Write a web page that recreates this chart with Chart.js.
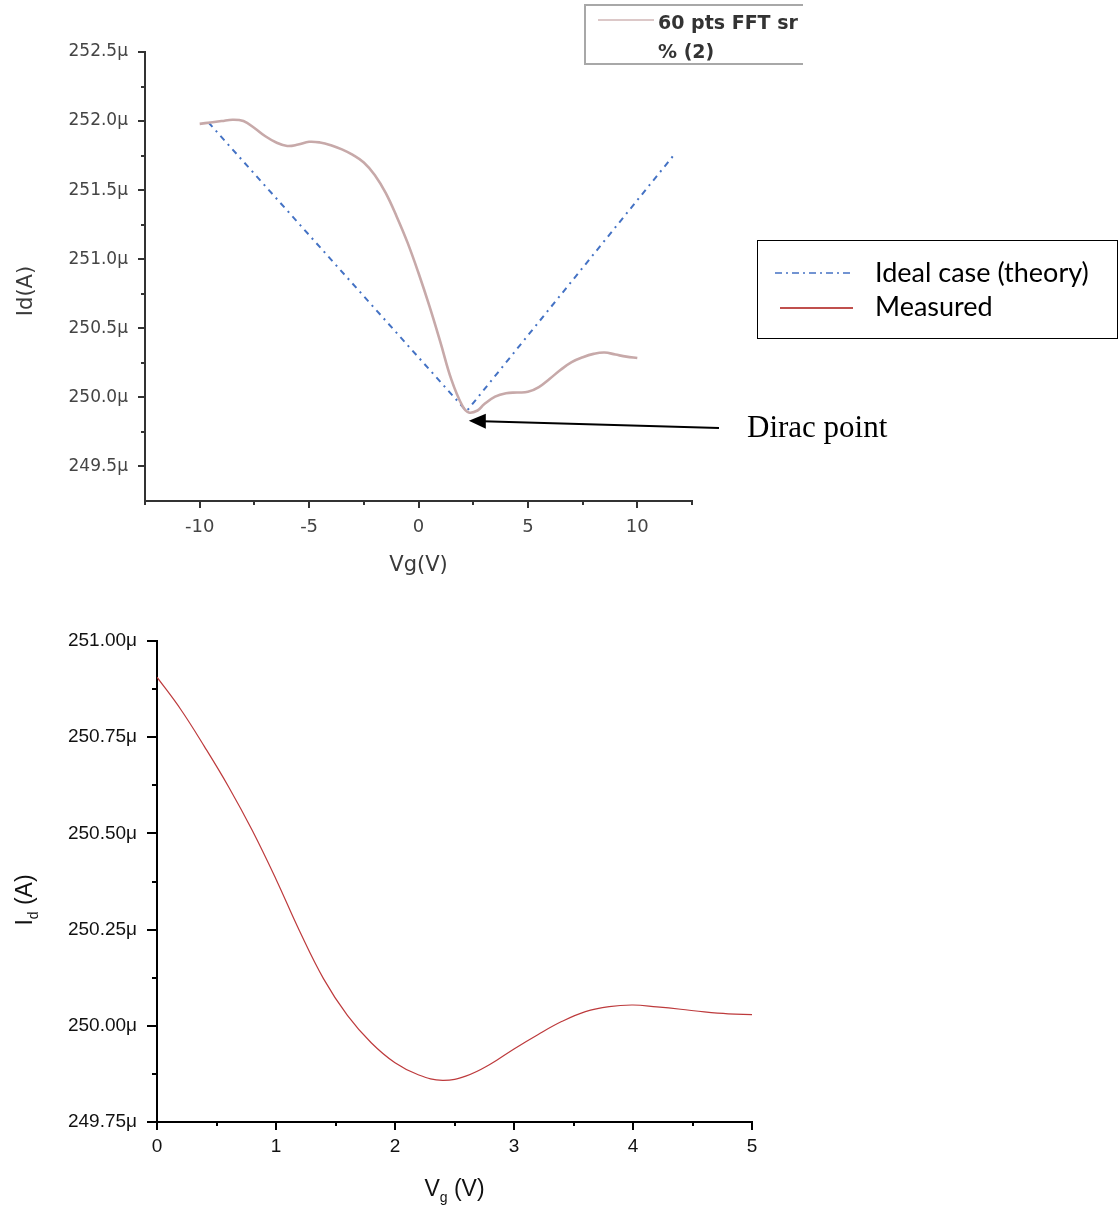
<!DOCTYPE html>
<html>
<head>
<meta charset="utf-8">
<script src="https://cdn.jsdelivr.net/npm/chart.js@4.4.0/dist/chart.umd.min.js"></script>
<style>
html,body{margin:0;padding:0;background:#fff;width:1120px;height:1207px;overflow:hidden}
#c1{position:absolute;left:0;top:0}
#c2{position:absolute;left:0;top:600px}
</style>
</head>
<body>
<canvas id="c1" width="1120" height="600"></canvas>
<canvas id="c2" width="1120" height="607"></canvas>
<script>
// ---------------- data (values in µA / V) ----------------
const topVg = [-10, -9.5, -9, -8.5, -8, -7.5, -7, -6.5, -6, -5.5, -5, -4.5, -4, -3.5, -3, -2.5, -2, -1.5, -1, -0.5, 0, 0.5, 1, 1.5, 2, 2.3, 2.7, 3, 3.5, 4, 4.5, 5, 5.5, 6, 6.5, 7, 7.5, 8, 8.5, 9, 9.5, 10];
const topId = [251.98, 251.99, 252.00, 252.01, 252.00, 251.95, 251.89, 251.845, 251.82, 251.83, 251.85, 251.845, 251.825, 251.795, 251.755, 251.70, 251.61, 251.48, 251.31, 251.12, 250.90, 250.66, 250.40, 250.13, 249.94, 249.89, 249.905, 249.95, 250.005, 250.03, 250.035, 250.04, 250.075, 250.135, 250.20, 250.255, 250.29, 250.315, 250.325, 250.31, 250.295, 250.285];
const idealVg = [-9.6, 2.2, 11.7];
const idealId = [251.99, 249.90, 251.76];
const topXTicks = [-10, -5, 0, 5, 10];
const topXMinor = [-12.5, -7.5, -2.5, 2.5, 7.5, 12.5];
const topYTicks = [249.5, 250.0, 250.5, 251.0, 251.5, 252.0, 252.5];
const topYMinor = [249.75, 250.25, 250.75, 251.25, 251.75, 252.25];

const botVg = [0, 0.2, 0.4, 0.6, 0.8, 1.0, 1.2, 1.4, 1.6, 1.8, 2.0, 2.2, 2.4, 2.6, 2.8, 3.0, 3.2, 3.4, 3.6, 3.8, 4.0, 4.2, 4.4, 4.6, 4.8, 5.0];
const botId = [250.906, 250.822, 250.725, 250.622, 250.508, 250.381, 250.245, 250.122, 250.027, 249.956, 249.904, 249.872, 249.858, 249.870, 249.900, 249.940, 249.977, 250.011, 250.037, 250.050, 250.054, 250.049, 250.043, 250.036, 250.031, 250.029];
const botXTicks = [0, 1, 2, 3, 4, 5];
const botXMinor = [0.5, 1.5, 2.5, 3.5, 4.5];
const botYTicks = [249.75, 250.00, 250.25, 250.50, 250.75, 251.00];
const botYMinor = [249.875, 250.125, 250.375, 250.625, 250.875];

const topLegendLines = ['60 pts FFT sr', '% (2)'];
const rightLegendLabels = ['Ideal case (theory)', 'Measured'];
const diracLabel = 'Dirac point';
const diracPoint = [2.3, 249.83];
const topXTitle = 'Vg(V)';
const topYTitle = 'Id(A)';
const botXTitle = [['V', false], ['g', true], [' (V)', false]];
const botYTitle = [['I', false], ['d', true], [' (A)', false]];

// ---------------- helpers ----------------
const pts = (xs, ys) => xs.map((x, i) => ({x: x, y: ys[i]}));
const setTicks = arr => s => { s.ticks = arr.map(v => ({value: v})); };

const minorTicks = {
  id: 'minorTicks',
  afterDraw(chart, args, o) {
    const ctx = chart.ctx, ca = chart.chartArea;
    const xs = chart.scales.x, ys = chart.scales.y;
    ctx.save();
    ctx.strokeStyle = o.color; ctx.lineWidth = o.width;
    o.xv.forEach(v => { const p = Math.round(xs.getPixelForValue(v)); ctx.beginPath(); ctx.moveTo(p, ca.bottom); ctx.lineTo(p, ca.bottom + o.xlen); ctx.stroke(); });
    o.yv.forEach(v => { const p = Math.round(ys.getPixelForValue(v)); ctx.beginPath(); ctx.moveTo(ca.left, p); ctx.lineTo(ca.left - o.ylen, p); ctx.stroke(); });
    ctx.restore();
  }
};

function drawSubText(ctx, parts, cx, baseY, size, family, color) {
  const subSize = Math.round(size * 0.62);
  let total = 0;
  const widths = parts.map(([t, sub]) => { ctx.font = (sub ? subSize : size) + 'px ' + family; const w = ctx.measureText(t).width; total += w; return w; });
  let x = cx - total / 2;
  ctx.fillStyle = color; ctx.textAlign = 'left'; ctx.textBaseline = 'alphabetic';
  parts.forEach(([t, sub], i) => {
    ctx.font = (sub ? subSize : size) + 'px ' + family;
    ctx.fillText(t, x, baseY + (sub ? size * 0.28 : 0));
    x += widths[i];
  });
}

const topDecor = {
  id: 'topDecor',
  afterDraw(chart) {
    const ctx = chart.ctx, ca = chart.chartArea;
    const ds1 = chart.data.datasets[1];
    ctx.save();
    // axis titles
    ctx.fillStyle = '#3a3a3a';
    ctx.font = '21px "DejaVu Sans"';
    ctx.textAlign = 'center'; ctx.textBaseline = 'alphabetic';
    ctx.fillText(topXTitle, (ca.left + ca.right) / 2, 571);
    ctx.save();
    ctx.translate(32, 291); ctx.rotate(-Math.PI / 2);
    ctx.fillText(topYTitle, 0, 0);
    ctx.restore();

    // clipped original legend (top)
    ctx.save();
    ctx.beginPath(); ctx.rect(0, 0, 803, 80); ctx.clip();
    ctx.strokeStyle = '#a8a8a8'; ctx.lineWidth = 2;
    ctx.beginPath(); ctx.moveTo(810, 5); ctx.lineTo(585, 5); ctx.lineTo(585, 64); ctx.lineTo(810, 64); ctx.stroke();
    ctx.strokeStyle = '#dcc8c8'; ctx.lineWidth = 2;
    ctx.beginPath(); ctx.moveTo(598, 20); ctx.lineTo(654, 20); ctx.stroke();
    ctx.fillStyle = '#333'; ctx.font = 'bold 19px "DejaVu Sans"'; ctx.textAlign = 'left';
    ctx.fillText(topLegendLines[0], 658, 29);
    ctx.fillText(topLegendLines[1], 658, 58);
    ctx.restore();

    // right legend box
    ctx.strokeStyle = '#000'; ctx.lineWidth = 1;
    ctx.strokeRect(757.5, 240.5, 360, 98);
    ctx.strokeStyle = ds1.borderColor; ctx.lineWidth = 1.6; ctx.setLineDash([7, 4, 2, 4]);
    ctx.beginPath(); ctx.moveTo(775, 273); ctx.lineTo(851, 273); ctx.stroke();
    ctx.setLineDash([]);
    ctx.strokeStyle = '#c0504d'; ctx.lineWidth = 1.8;
    ctx.beginPath(); ctx.moveTo(780, 308); ctx.lineTo(853, 308); ctx.stroke();
    ctx.fillStyle = '#000'; ctx.font = '27px Lato'; ctx.textAlign = 'left';
    ctx.fillText(rightLegendLabels[0], 875, 282);
    ctx.fillText(rightLegendLabels[1], 875, 316);

    // Dirac point annotation
    const tx = chart.scales.x.getPixelForValue(diracPoint[0]);
    const ty = chart.scales.y.getPixelForValue(diracPoint[1]);
    ctx.strokeStyle = '#000'; ctx.lineWidth = 2;
    ctx.beginPath(); ctx.moveTo(719, 428); ctx.lineTo(tx + 14, ty + 0.5); ctx.stroke();
    ctx.fillStyle = '#000';
    ctx.beginPath(); ctx.moveTo(tx, ty); ctx.lineTo(tx + 17, ty - 7); ctx.lineTo(tx + 17, ty + 8); ctx.closePath(); ctx.fill();
    ctx.font = '31px "Liberation Serif"';
    ctx.fillText(diracLabel, 747, 437);
    ctx.restore();
  }
};

const botDecor = {
  id: 'botDecor',
  afterDraw(chart) {
    const ctx = chart.ctx, ca = chart.chartArea;
    ctx.save();
    drawSubText(ctx, botXTitle, (ca.left + ca.right) / 2, 596, 23, '"Liberation Sans"', '#111');
    ctx.translate(32, 300); ctx.rotate(-Math.PI / 2);
    drawSubText(ctx, botYTitle, 0, 0, 23, '"Liberation Sans"', '#111');
    ctx.restore();
  }
};

// ---------------- top chart ----------------
new Chart(document.getElementById('c1'), {
  type: 'line',
  data: {
    datasets: [
      {label: '60 pts FFT sr % (2)', data: pts(topVg, topId), borderColor: '#c7a9a9', borderWidth: 2.6,
       pointRadius: 0, tension: 0.4, fill: false},
      {label: 'Ideal case (theory)', data: pts(idealVg, idealId), borderColor: '#4472c4', borderWidth: 2,
       borderDash: [6, 5, 2, 5], pointRadius: 0, tension: 0, fill: false}
    ]
  },
  options: {
    responsive: false, animation: false, devicePixelRatio: 1,
    layout: {padding: {left: 0, top: 52, right: 428, bottom: 0}},
    plugins: {
      legend: {display: false}, tooltip: {enabled: false},
      minorTicks: {xv: topXMinor, yv: topYMinor, xlen: 4, ylen: 4, color: '#333', width: 2}
    },
    scales: {
      x: {
        type: 'linear', min: -12.5, max: 12.5,
        afterBuildTicks: setTicks(topXTicks),
        afterFit: s => { s.height = 99; },
        grid: {drawOnChartArea: false, drawTicks: true, tickLength: 7, lineWidth: 2, color: '#333'},
        border: {display: true, color: '#333', width: 2},
        ticks: {font: {family: 'DejaVu Sans', size: 18}, color: '#444', padding: 9, maxRotation: 0, autoSkip: false,
                callback: v => String(v)}
      },
      y: {
        type: 'linear', min: 249.25, max: 252.5,
        afterBuildTicks: setTicks(topYTicks),
        afterFit: s => { s.width = 145; },
        grid: {drawOnChartArea: false, drawTicks: true, tickLength: 7, lineWidth: 2, color: '#333'},
        border: {display: true, color: '#333', width: 2},
        ticks: {font: {family: 'DejaVu Sans', size: 17}, color: '#444', padding: 10, autoSkip: false,
                callback: v => v.toFixed(1) + 'μ'}
      }
    }
  },
  plugins: [minorTicks, topDecor]
});

// ---------------- bottom chart ----------------
new Chart(document.getElementById('c2'), {
  type: 'line',
  data: {
    datasets: [
      {label: 'Measured', data: pts(botVg, botId), borderColor: '#bd3a3c', borderWidth: 1.2,
       pointRadius: 0, tension: 0.4, fill: false}
    ]
  },
  options: {
    responsive: false, animation: false, devicePixelRatio: 1,
    layout: {padding: {left: 0, top: 41, right: 368, bottom: 0}},
    plugins: {
      legend: {display: false}, tooltip: {enabled: false},
      minorTicks: {xv: botXMinor, yv: botYMinor, xlen: 4, ylen: 5, color: '#000', width: 2}
    },
    scales: {
      x: {
        type: 'linear', min: 0, max: 5,
        afterBuildTicks: setTicks(botXTicks),
        afterFit: s => { s.height = 85; },
        grid: {drawOnChartArea: false, drawTicks: true, tickLength: 8, lineWidth: 2, color: '#000'},
        border: {display: true, color: '#000', width: 2},
        ticks: {font: {family: 'Liberation Sans', size: 19}, color: '#111', padding: 5, maxRotation: 0, autoSkip: false,
                callback: v => String(v)}
      },
      y: {
        type: 'linear', min: 249.75, max: 251.0,
        afterBuildTicks: setTicks(botYTicks),
        afterFit: s => { s.width = 157; },
        grid: {drawOnChartArea: false, drawTicks: true, tickLength: 10, lineWidth: 2, color: '#000'},
        border: {display: true, color: '#000', width: 2},
        ticks: {font: {family: 'Liberation Sans', size: 19}, color: '#111', padding: 10, autoSkip: false,
                callback: v => v.toFixed(2) + 'μ'}
      }
    }
  },
  plugins: [minorTicks, botDecor]
});
</script>
</body>
</html>
